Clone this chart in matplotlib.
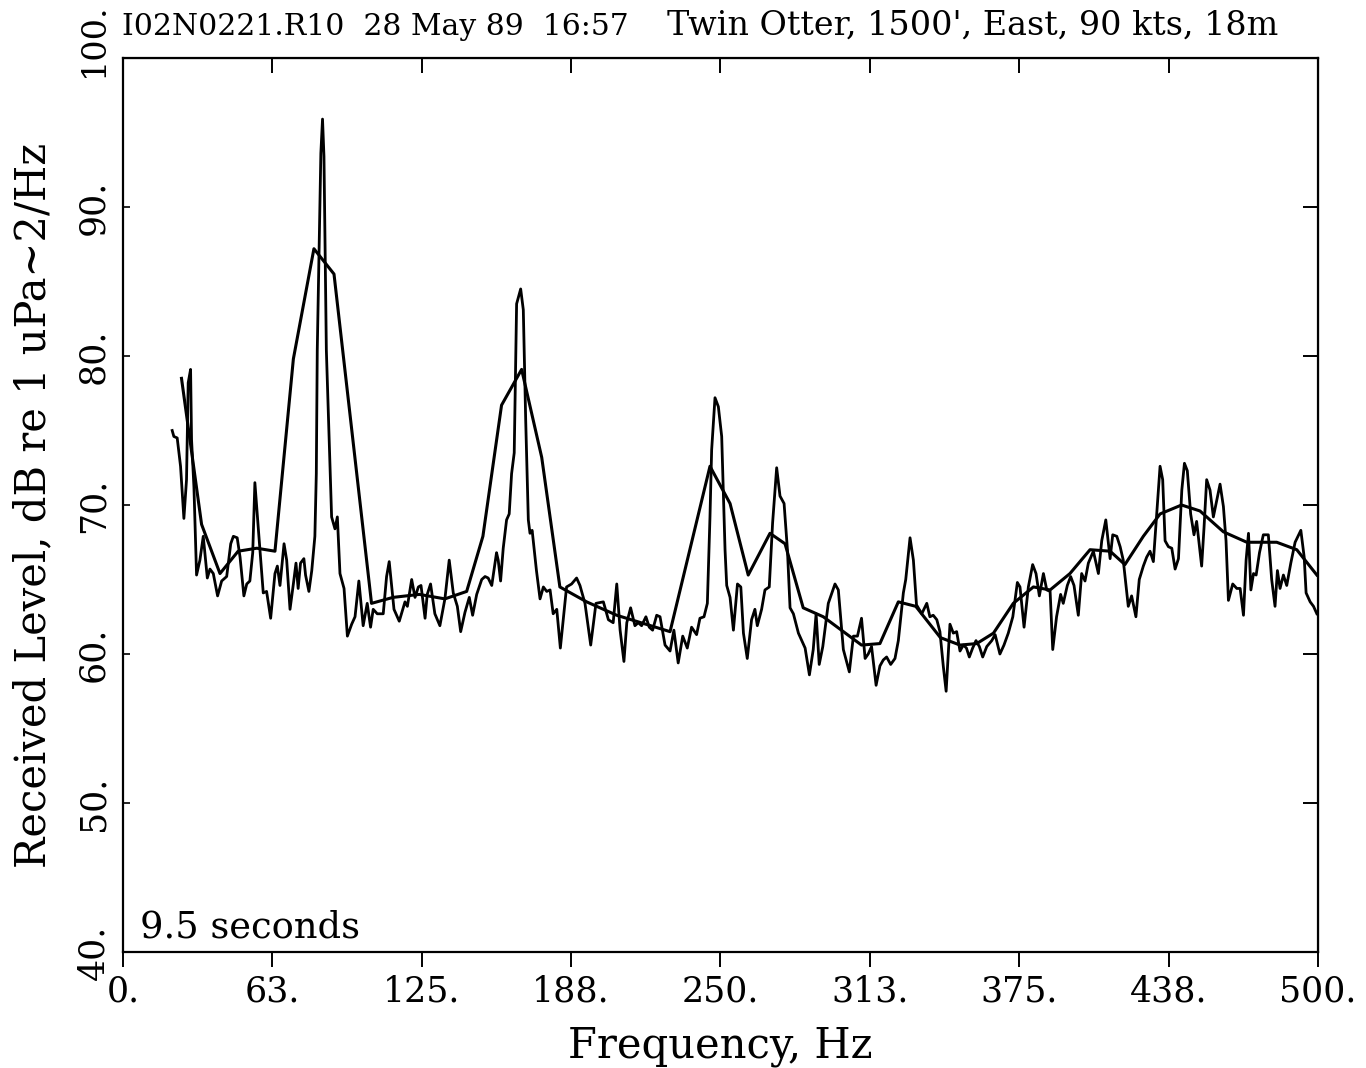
import matplotlib
matplotlib.use("Agg")
import matplotlib.pyplot as plt

# Narrow-band spectrum (thin, noisy trace): frequency (Hz) and level (dB)
freq_fine = [
    20.6, 21.3, 22.7, 24.1, 25.5, 26.6, 27.3, 28.3, 28.7, 29.7, 30.8, 32.2, 33.6, 35.3,
    36.4, 37.8, 39.6, 41.3, 43.4, 45.1, 46.2, 47.8, 49.0, 50.6, 51.8, 53.1, 54.3, 55.2,
    56.6, 58.7, 60.1, 61.8, 63.6, 64.6, 65.7, 67.4, 68.5, 69.9, 71.3, 72.4, 73.3, 74.3,
    75.7, 76.4, 77.8, 79.0, 80.3, 80.9, 81.3, 82.8, 83.5, 84.1, 85.1, 86.3, 87.3, 88.7,
    89.7, 90.8, 92.5, 93.9, 95.7, 97.1, 98.7, 100.5, 102.2, 103.6, 104.7, 106.4, 108.9,
    110.3, 111.4, 113.4, 115.6, 118.0, 119.0, 120.8, 122.2, 123.6, 124.7, 126.4, 127.3,
    128.7, 130.5, 132.6, 134.7, 136.5, 138.2, 139.9, 141.3, 143.1, 144.9, 146.3, 148.0,
    150.1, 151.5, 152.8, 154.3, 156.3, 157.0, 158.0, 159.1, 160.5, 161.6, 162.6, 163.7,
    164.7, 166.4, 167.5, 168.5, 169.6, 170.3, 171.2, 173.0, 174.5, 175.9, 177.3, 178.7,
    180.0, 181.5, 183.0, 185.6, 187.7, 189.8, 191.2, 193.3, 195.7, 197.9, 201.0, 203.1,
    205.1, 206.6, 208.0, 209.6, 210.8, 212.4, 214.2, 215.6, 217.0, 218.8, 220.2, 221.6,
    223.3, 224.7, 226.8, 228.9, 230.5, 232.3, 234.2, 236.1, 237.9, 240.0, 241.4, 243.1,
    244.5, 245.6, 246.3, 247.7, 249.1, 250.5, 251.9, 252.6, 254.0, 255.4, 257.1, 258.5,
    259.6, 261.2, 263.0, 264.4, 265.4, 267.2, 268.6, 270.4, 271.8, 273.5, 274.9, 276.6,
    278.0, 279.1, 280.5, 282.6, 285.4, 287.2, 288.8, 290.0, 291.3, 292.8, 295.1, 297.9,
    299.3, 301.4, 303.9, 305.6, 307.3, 309.0, 310.5, 311.8, 313.2, 315.1, 316.7, 318.1,
    319.5, 321.2, 323.0, 324.4, 326.5, 327.5, 329.3, 330.7, 332.0, 334.2, 336.3, 337.6,
    339.0, 340.5, 341.8, 343.2, 344.4, 346.0, 347.4, 348.8, 350.2, 351.6, 352.9, 354.1,
    355.5, 356.9, 358.3, 359.7, 361.4, 363.5, 364.9, 366.9, 368.6, 370.4, 372.3, 374.2,
    375.3, 377.0, 378.8, 380.6, 382.0, 383.4, 385.1, 386.5, 387.9, 389.0, 390.6, 392.3,
    393.4, 395.1, 396.5, 397.9, 399.7, 401.1, 402.5, 403.9, 406.0, 408.1, 409.5, 411.2,
    413.0, 414.1, 415.8, 417.2, 418.5, 420.6, 422.0, 423.8, 425.2, 426.9, 428.3, 429.7,
    431.1, 432.5, 433.9, 435.0, 436.0, 437.4, 438.8, 440.2, 441.6, 443.0, 444.1, 445.3,
    446.7, 448.1, 449.2, 451.3, 452.3, 453.4, 454.8, 456.2, 457.6, 459.0, 460.4, 461.5,
    462.5, 464.3, 466.0, 467.4, 468.8, 469.9, 470.9, 471.9, 473.0, 474.1, 475.5, 477.1,
    479.2, 480.6, 482.0, 483.0, 484.1, 485.5, 486.9, 488.6, 490.4, 492.8, 494.2, 495.0,
    496.7, 498.1, 499.5,
]
level_fine = [
    75.0, 74.6, 74.5, 72.6, 69.1, 71.7, 78.2, 79.1, 74.4, 71.2, 65.3, 66.3, 67.9, 65.1,
    65.7, 65.4, 63.9, 64.9, 65.2, 67.4, 67.9, 67.8, 66.5, 63.9, 64.7, 64.9, 66.8, 71.5,
    68.5, 64.1, 64.2, 62.4, 65.4, 65.9, 64.6, 67.4, 66.3, 63.0, 64.7, 66.1, 64.4, 66.1,
    66.4, 65.3, 64.2, 65.6, 67.9, 72.1, 80.4, 93.6, 95.9, 93.4, 80.4, 74.4, 69.2, 68.4,
    69.2, 65.4, 64.4, 61.2, 62.0, 62.5, 64.9, 61.9, 63.4, 61.8, 63.0, 62.7, 62.7,
    65.2, 66.2, 63.0, 62.2, 63.5, 63.2, 65.0, 63.8, 64.5, 64.6, 62.4, 64.0,
    64.7, 62.7, 61.9, 63.7, 66.3, 64.1, 63.2, 61.5, 62.8, 63.8, 62.6, 64.0,
    65.0, 65.2, 65.1, 64.6, 66.8, 66.3, 64.9, 67.1, 69.0, 69.4, 72.1, 73.5,
    83.5, 84.5, 83.1, 75.7, 69.0, 68.1, 68.3, 65.6, 63.7, 64.5, 64.2, 64.3,
    62.7, 63.0, 60.4, 64.5, 64.7, 65.1, 64.6, 63.4, 60.6, 63.4, 63.5, 62.3,
    62.1, 64.7, 61.6, 59.5, 62.1, 63.1, 61.9, 62.1, 61.9, 62.5, 61.8, 61.6,
    62.6, 62.5, 60.6, 60.2, 61.6, 59.4, 61.2, 60.4, 61.8, 61.3, 62.4, 62.5,
    63.4, 69.2, 73.7, 77.2, 76.6, 74.6, 67.0, 64.6, 63.8, 61.6, 64.7, 64.5,
    61.4, 59.7, 62.3, 63.0, 61.9, 63.0, 64.3, 64.5, 68.8, 72.5, 70.6, 70.1,
    67.0, 63.1, 62.7, 61.4, 60.4, 58.6, 60.3, 62.7, 59.3, 60.5, 63.4, 64.7,
    64.3, 60.3, 58.8, 61.2, 61.2, 62.4, 59.7, 60.0, 60.5, 57.9, 59.2, 59.6,
    59.8, 59.3, 59.7, 60.9, 64.1, 65.0, 67.8, 66.3, 63.3, 62.7, 63.4, 62.5,
    62.6, 62.3, 61.5, 59.2, 57.5, 62.0, 61.4, 61.5, 60.2, 60.6, 60.4, 59.8,
    60.4, 60.9, 60.5, 59.8, 60.5, 60.9, 61.3, 60.0, 60.6, 61.4, 62.5, 64.8,
    64.5, 61.8, 64.5, 66.0, 65.4, 63.9, 65.4, 64.3, 64.2, 60.3, 62.5, 64.0,
    63.4, 64.6, 65.2, 64.6, 62.6, 65.4, 64.9, 66.1, 66.9, 65.4, 67.6, 69.0,
    66.4, 68.0, 67.9, 67.2, 66.3, 63.2, 63.9, 62.5, 65.0, 65.9, 66.5, 66.9,
    66.2, 69.4, 72.6, 71.7, 67.6, 67.2, 67.1, 65.7, 66.4, 71.0, 72.8, 72.3,
    69.4, 68.0, 68.9, 65.9, 68.5, 71.7, 71.0, 69.2, 70.3, 71.4, 69.9, 67.6,
    63.6, 64.7, 64.4, 64.4, 62.6, 66.3, 68.1, 64.3, 65.4, 65.3, 66.8, 68.0,
    68.0, 65.0, 63.2, 65.6, 64.4, 65.3, 64.6, 66.1, 67.5, 68.3, 66.5, 64.1,
    63.5, 63.2, 62.7,
]

# Smoothed (band-averaged) trace
freq_smooth = [
    24.5, 32.9, 40.6, 48.2, 56.0, 63.6, 71.3, 79.9, 88.3, 104.0, 113.0, 124.0, 134.7,
    143.8, 150.6, 158.4, 166.8, 175.2, 182.8, 194.0, 206.6, 228.9, 245.6, 254.0, 261.6,
    270.7, 277.0, 284.6, 293.0, 309.0, 316.7, 324.4, 331.7, 342.0, 350.2, 357.2, 364.2,
    372.5, 380.9, 387.9, 396.2, 404.6, 413.0, 419.2, 426.9, 433.9, 442.9, 450.6, 460.4,
    470.2, 482.7, 491.1, 499.5,
]
level_smooth = [
    78.5, 68.7, 65.4, 66.9, 67.1, 66.9, 79.8, 87.2, 85.5, 63.4, 63.8, 64.0, 63.7,
    64.2, 67.9, 76.7, 79.1, 73.2, 64.5, 63.5, 62.6, 61.5, 72.6, 70.1, 65.3,
    68.1, 67.4, 63.1, 62.5, 60.6, 60.7, 63.5, 63.2, 61.1, 60.6, 60.7, 61.4,
    63.4, 64.5, 64.3, 65.4, 67.0, 66.9, 66.0, 67.9, 69.4, 70.0, 69.6, 68.2,
    67.5, 67.5, 67.0, 65.3,
]

x_ticks = [0, 62.5, 125, 187.5, 250, 312.5, 375, 437.5, 500]
x_tick_labels = ["0.", "63.", "125.", "188.", "250.", "313.", "375.", "438.", "500."]
y_ticks = [40, 50, 60, 70, 80, 90, 100]
y_tick_labels = ["40.", "50.", "60.", "70.", "80.", "90.", "100."]

title_left = "I02N0221.R10  28 May 89  16:57"
title_right = "Twin Otter, 1500', East, 90 kts, 18m"

plt.rcParams["font.family"] = ["DejaVu Serif"]

fig = plt.figure(figsize=(13.66, 10.68), dpi=100)
ax = fig.add_axes([0.0900, 0.1086, 0.8749, 0.8371])

ax.plot(freq_fine, level_fine, color="black", lw=2.0, solid_joinstyle="round")
ax.plot(freq_smooth, level_smooth, color="black", lw=2.2, solid_joinstyle="round")

ax.set_xlim(0, 500)
ax.set_ylim(40, 100)

for s in ax.spines.values():
    s.set_linewidth(1.6)

ax.set_xticks(x_ticks)
ax.set_xticklabels(x_tick_labels, fontsize=25)
ax.set_yticks(y_ticks)
# the top label ("100.") is drawn separately, shifted up so it ends at the page edge
ax.set_yticklabels(y_tick_labels[:-1] + [""], fontsize=25, rotation=90, va="center")
ax.tick_params(axis="x", direction="out", length=11, width=1.4, pad=5, top=False)
ax.tick_params(axis="y", direction="in", length=5, width=1.2, pad=9, right=False)
ax.text(-0.0105, 0.979, y_tick_labels[-1], transform=ax.transAxes, fontsize=24,
        rotation=90, ha="left", va="bottom", rotation_mode="anchor")

# inward ticks on the top and right frame
top = ax.secondary_xaxis("top")
top.set_xticks(x_ticks)
top.tick_params(direction="in", length=11, width=1.4, labeltop=False)
right = ax.secondary_yaxis("right")
right.set_yticks(y_ticks)
right.tick_params(direction="in", length=11, width=1.4, labelright=False)

ax.set_xlabel("Frequency, Hz", fontsize=30, labelpad=12)
ax.set_ylabel("Received Level, dB re 1 uPa~2/Hz", fontsize=30, labelpad=16)

ax.text(0.014, 0.016, "9.5 seconds", transform=ax.transAxes, fontsize=26.5,
        ha="left", va="baseline")

fig.text(0.0893, 0.9672, title_left, fontsize=21.5, ha="left", va="baseline")
fig.text(0.9356, 0.9672, title_right, fontsize=24, ha="right", va="baseline")

fig.savefig("out.png", dpi=100)
